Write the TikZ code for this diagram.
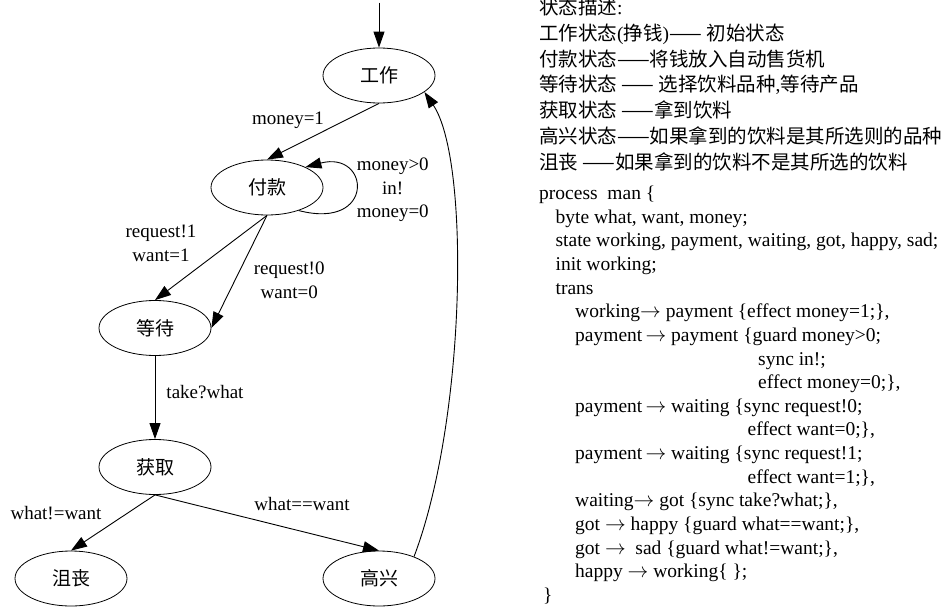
\documentclass[tikz,border=0pt]{standalone}
\usepackage{fontspec}
\setmainfont{Liberation Serif}
\newfontfamily\zh{Noto Sans CJK SC}
\usetikzlibrary{shapes.geometric, arrows.meta, positioning}
\tikzstyle{state} = [ellipse, draw=black, line width=0.8pt, minimum width=112pt, minimum height=55pt, inner sep=0pt, font=\zh\fontsize{19}{23}\selectfont]
\tikzstyle{arrow} = [line width=0.9pt, -{Triangle[length=16pt,width=11pt]}]
\tikzstyle{lbl} = [inner sep=0pt, align=center, font=\fontsize{19}{23.5}\selectfont]
\tikzstyle{txt} = [inner sep=0pt, anchor=base west, align=left]

\begin{document}
\begin{tikzpicture}[x=1pt, y=1pt, node distance=112pt, on grid]
\useasboundingbox (0,0) rectangle (952,-610);

% States
\node (gz) [state] at (379,-75.5) {工作};
\node (fk) [state, below left=112pt and 112pt of gz] {付款};
\node (dd) [state, below left=140.5pt and 112pt of fk] {等待};
\node (hq) [state, below=139pt of dd] {获取};
\node (jz) [state, below left=111.5pt and 84pt of hq] {沮丧};
\node (gx) [state, below right=111.5pt and 224pt of hq] {高兴};
\coordinate [above=45pt of gz.north] (init);

% Description and code (base = last line)
\node (desc) [txt, font=\fontsize{19.5}{25.8}\selectfont] at (539,-169.2) {%
{\zh 状态描述}:\\
{\zh 工作状态}({\zh 挣钱}){\zh ——} {\zh 初始状态}\\
{\zh 付款状态——将钱放入自动售货机}\\
{\zh 等待状态 —— 选择饮料品种},{\zh 等待产品}\\
{\zh 获取状态 ——拿到饮料}\\
{\zh 高兴状态——如果拿到的饮料是其所选则的品种}\\
{\zh 沮丧 ——如果拿到的饮料不是其所选的饮料}};
\node (code) [txt, font=\fontsize{19.5}{23.65}\selectfont] at (539,-601.5) {%
process\ \ man \{\\
\hspace*{16.4pt}byte what, want, money;\\
\hspace*{16.4pt}state working, payment, waiting, got, happy, sad;\\
\hspace*{16.4pt}init working;\\
\hspace*{16.4pt}trans\\
\hspace*{36pt}working$\rightarrow$ payment \{effect money=1;\},\\
\hspace*{36pt}payment\,$\rightarrow$ payment \{guard money>0;\\
\hspace*{219pt}sync in!;\\
\hspace*{219pt}effect money=0;\},\\
\hspace*{36pt}payment\,$\rightarrow$ waiting \{sync request!0;\\
\hspace*{208.5pt}effect want=0;\},\\
\hspace*{36pt}payment\,$\rightarrow$ waiting \{sync request!1;\\
\hspace*{208.5pt}effect want=1;\},\\
\hspace*{36pt}waiting$\rightarrow$ got \{sync take?what;\},\\
\hspace*{36pt}got $\rightarrow$ happy \{guard what==want;\},\\
\hspace*{36pt}got $\rightarrow$\ \ sad \{guard what!=want;\},\\
\hspace*{36pt}happy $\rightarrow$ working\{ \};\\
\hspace*{4pt}\}};

% Transitions
\draw [arrow] (init) -- (gz);
\draw [arrow] (gz.south) -- node[lbl, xshift=-35pt, yshift=11.5pt] {money=1} (fk.north);
\draw [arrow] (fk.-36) .. controls +(77,-20) and +(65,17) .. (fk.28)
  node[lbl, pos=0.5, anchor=west, xshift=1pt] {money>0\\in!\\money=0};
\draw [arrow] (fk.south) -- node[lbl, xshift=-50pt, yshift=14.5pt] {request!1\\want=1} (dd.north);
\draw [arrow] (fk.south) -- node[lbl, xshift=50pt, yshift=-8.5pt] {request!0\\want=0} (dd.east);
\draw [arrow] (dd) -- node[lbl, xshift=50pt, yshift=5pt] {take?what} (hq);
\draw [arrow] (hq.south) -- node[lbl, xshift=-57pt, yshift=9.5pt] {what!=want} (jz.north);
\draw [arrow] (hq.south) -- node[lbl, xshift=35pt, yshift=18.5pt] {what==want} (gx.north);
\draw [arrow] (gx.32) .. controls +(52,137) and +(46,-68) .. (gz.-20);

\end{tikzpicture}
\end{document}
